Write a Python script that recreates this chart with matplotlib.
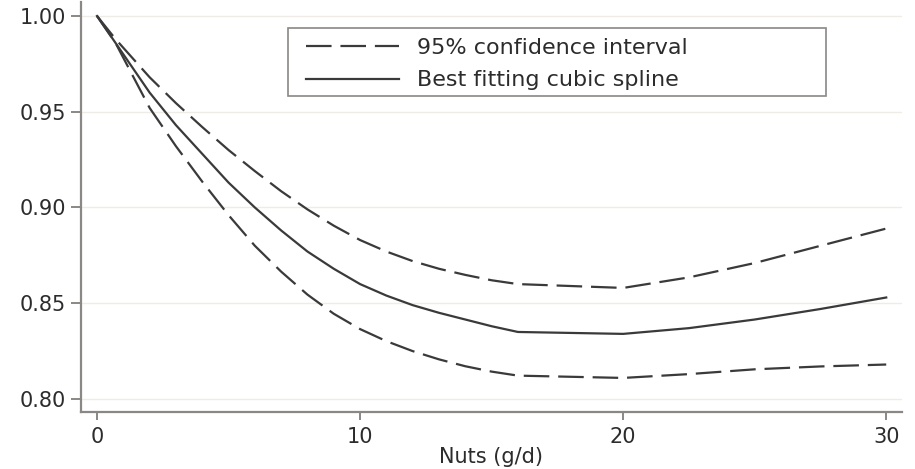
"""Spline dose-response of nut intake with 95% confidence band."""
import matplotlib
matplotlib.use("Agg")
import matplotlib.pyplot as plt
from matplotlib.patches import Rectangle

# Values
nuts_gd = [0, 0.7, 2, 3, 4, 5, 6, 7, 8, 9, 10, 11, 12, 13, 14, 15, 16,
           20, 22.5, 25, 27.5, 30]
spline = [1.000, 0.986, 0.960, 0.943, 0.928, 0.913, 0.900, 0.888, 0.877, 0.868, 0.860,
          0.854, 0.849, 0.845, 0.8415, 0.838, 0.835,
          0.834, 0.837, 0.8415, 0.847, 0.853]
ci_upper = [1.000, 0.988, 0.968, 0.9545, 0.942, 0.930, 0.919, 0.9085, 0.899, 0.8905, 0.883,
            0.877, 0.872, 0.868, 0.8648, 0.862, 0.860,
            0.858, 0.8635, 0.871, 0.880, 0.889]
ci_lower = [1.000, 0.986, 0.952, 0.932, 0.9135, 0.896, 0.880, 0.8665, 0.8545, 0.8445, 0.8365,
            0.8302, 0.825, 0.8207, 0.8171, 0.8143, 0.8122,
            0.811, 0.813, 0.8155, 0.817, 0.818]

x_ticks = [0, 10, 20, 30]
y_ticks = [0.80, 0.85, 0.90, 0.95, 1.00]
y_tick_labels = ["0.80", "0.85", "0.90", "0.95", "1.00"]

LINE_COLOR = "#3a3a3a"
AXIS_COLOR = "#8a8785"
TEXT_COLOR = "#2c2c2c"
DASH = (0, (11.5, 4))

plt.rcParams["font.family"] = ["DejaVu Sans"]


def main() -> None:
    fig = plt.figure(figsize=(9.15, 4.69), dpi=100)
    ax = fig.add_axes([0.0885, 0.1215, 0.8973, 0.8742])

    for y in y_ticks:
        ax.axhline(y, color="#efebe6", lw=1.0, zorder=0)

    ax.plot(nuts_gd, ci_upper, color=LINE_COLOR, lw=1.6, linestyle=DASH,
            label="95% confidence interval")
    ax.plot(nuts_gd, spline, color=LINE_COLOR, lw=1.6,
            label="Best fitting cubic spline")
    ax.plot(nuts_gd, ci_lower, color=LINE_COLOR, lw=1.6, linestyle=DASH)

    ax.set_xlim(-0.61, 30.6)
    ax.set_ylim(0.7932, 1.0073)
    ax.set_xticks(x_ticks)
    ax.set_yticks(y_ticks)
    ax.set_yticklabels(y_tick_labels)

    for side in ("top", "right"):
        ax.spines[side].set_visible(False)
    for side in ("left", "bottom"):
        ax.spines[side].set_color(AXIS_COLOR)
        ax.spines[side].set_linewidth(1.6)

    ax.tick_params(axis="both", colors=AXIS_COLOR, width=1.4, labelsize=15,
                   labelcolor=TEXT_COLOR)
    ax.tick_params(axis="y", length=7, pad=4)
    ax.tick_params(axis="x", length=6, pad=5)

    ax.set_xlabel("Nuts (g/d)", fontsize=15, color=TEXT_COLOR, labelpad=0)

    # legend box drawn separately so the entries can sit inset like the original
    ax.add_patch(Rectangle((0.2521, 0.7707), 0.6553, 0.1659, transform=ax.transAxes,
                           facecolor="white", edgecolor=AXIS_COLOR, lw=1.2, zorder=3))
    leg = ax.legend(loc="upper left", bbox_to_anchor=(0.274, 0.912), frameon=False,
                    fontsize=16, handlelength=4.2, handletextpad=0.8, borderpad=0,
                    labelspacing=0.55, borderaxespad=0)
    leg.set_zorder(4)
    for text in leg.get_texts():
        text.set_color(TEXT_COLOR)

    fig.savefig("out.png", dpi=100, facecolor="white")
    plt.close(fig)


if __name__ == "__main__":
    main()
